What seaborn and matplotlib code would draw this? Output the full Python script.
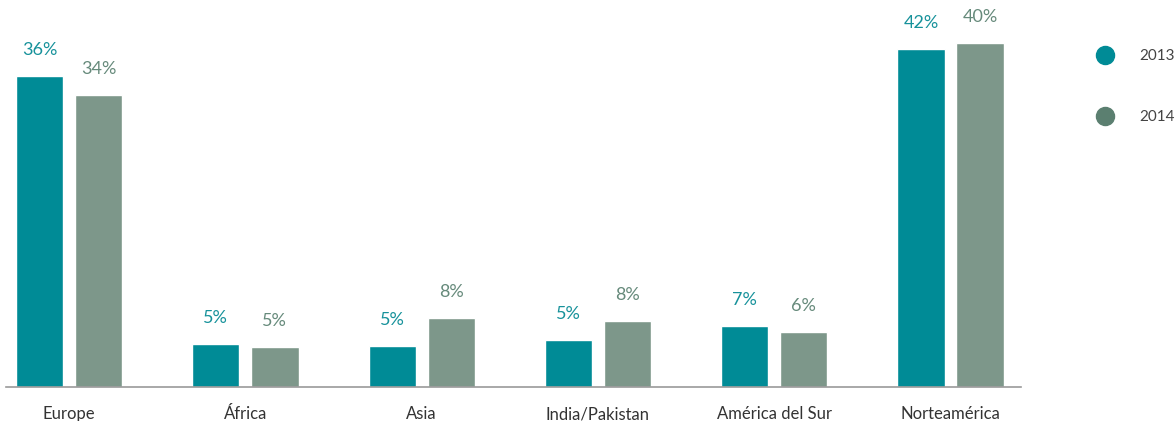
import matplotlib
matplotlib.use("Agg")
import matplotlib.pyplot as plt
from matplotlib.lines import Line2D
import pandas as pd
import seaborn as sns

regions = ["Europe", "África", "Asia", "India/Pakistan", "América del Sur", "Norteamérica"]
years = ["2013", "2014"]
share_2013 = [36.0, 5.0, 4.7, 5.4, 7.1, 39.1]
share_2014 = [33.8, 4.6, 8.0, 7.6, 6.4, 39.8]
labels_2013 = ["36%", "5%", "5%", "5%", "7%", "42%"]
labels_2014 = ["34%", "5%", "8%", "8%", "6%", "40%"]

bar_colors = {"2013": "#008b96", "2014": "#7d978a"}
text_colors = {"2013": "#17929b", "2014": "#668a7b"}
legend_colors = {"2013": "#008b96", "2014": "#5b7f70"}

df = pd.DataFrame({
    "region": regions * 2,
    "year": ["2013"] * len(regions) + ["2014"] * len(regions),
    "share": share_2013 + share_2014,
})

sns.set_style("white")
plt.rcParams["font.family"] = ["Lato", "DejaVu Sans"]

fig = plt.figure(figsize=(11.76, 4.21), dpi=100)
ax = fig.add_axes([6 / 1176, 34 / 421, 1015 / 1176, 387 / 421])

sns.barplot(data=df, x="region", y="share", hue="year", order=regions,
            hue_order=years, palette=bar_colors, saturation=1, width=0.67,
            gap=0.2, legend=False, ax=ax)

for cont, yr, labs in zip(ax.containers, years, [labels_2013, labels_2014]):
    ax.bar_label(cont, labels=labs, padding=13, fontsize=13,
                 color=text_colors[yr])

ax.set_xlim(-0.358, 5.40)
ax.set_ylim(0, 44.8)
ax.set_xlabel("")
ax.set_ylabel("")
ax.set_yticks([])
ax.tick_params(axis="x", length=0, pad=14, labelsize=12, labelcolor="#333333")
sns.despine(ax=ax, left=True)
ax.spines["bottom"].set_color("#9a9a9a")
ax.spines["bottom"].set_linewidth(1.2)

handles = [Line2D([], [], marker="o", linestyle="none", markersize=13,
                  color=legend_colors[y]) for y in years]
fig.legend(handles, years, loc="upper left", bbox_to_anchor=(1090 / 1176, 1 - 49 / 421),
           frameon=False, fontsize=11, labelcolor="#444444", labelspacing=3.1,
           handletextpad=1.2, borderpad=0, borderaxespad=0)

fig.savefig("out.png", dpi=100)
